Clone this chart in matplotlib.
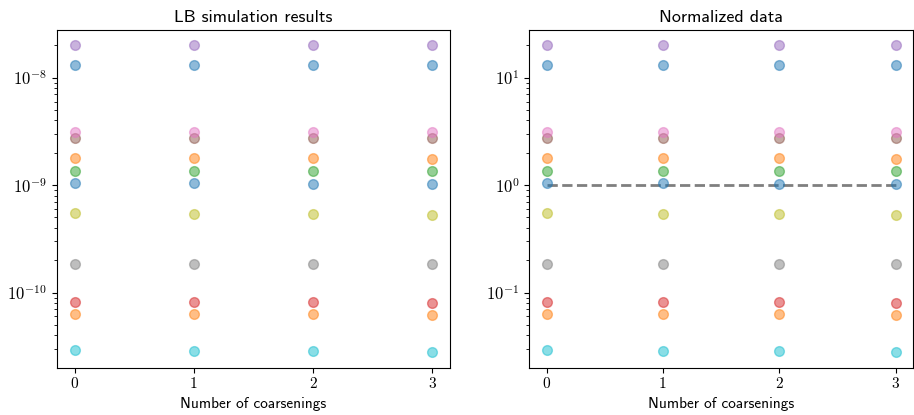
import matplotlib
matplotlib.use('Agg')
import matplotlib.pyplot as plt
from matplotlib.ticker import FuncFormatter, NullFormatter
import numpy as np

plt.rcParams['mathtext.fontset'] = 'cm'

coarsenings = [0, 1, 2, 3]
xtick_labels = ['0', '1', '2', '3']

# one row per simulated case, columns = number of coarsenings
s0 = [1.32e-8, 1.32e-8, 1.32e-8, 1.32e-8]
s1 = [1.78e-9, 1.78e-9, 1.78e-9, 1.77e-9]
s2 = [1.36e-9, 1.36e-9, 1.35e-9, 1.34e-9]
s3 = [8.25e-11, 8.25e-11, 8.1e-11, 7.95e-11]
s4 = [2.0e-8, 2.0e-8, 2.0e-8, 2.0e-8]
s5 = [2.77e-9, 2.77e-9, 2.77e-9, 2.76e-9]
s6 = [3.15e-9, 3.15e-9, 3.15e-9, 3.14e-9]
s7 = [1.85e-10, 1.85e-10, 1.84e-10, 1.83e-10]
s8 = [5.45e-10, 5.42e-10, 5.35e-10, 5.28e-10]
s9 = [2.91e-11, 2.89e-11, 2.84e-11, 2.78e-11]
s10 = [1.04e-9, 1.04e-9, 1.03e-9, 1.02e-9]
s11 = [6.38e-11, 6.36e-11, 6.3e-11, 6.22e-11]
series = [s0, s1, s2, s3, s4, s5, s6, s7, s8, s9, s10, s11]

norm_factor = 1e-9

fig = plt.figure(figsize=(9.14, 4.15), dpi=100)
ax1 = fig.add_axes([0.062, 0.114, 0.4303, 0.8137])
ax2 = fig.add_axes([0.579, 0.114, 0.4199, 0.8137])

colors = plt.rcParams['axes.prop_cycle'].by_key()['color']

for ii, s in enumerate(series):
    c = colors[ii % len(colors)]
    ax1.plot(coarsenings, s, 'o', color=c, alpha=0.5, markersize=7, zorder=3)
    ax2.plot(coarsenings, np.array(s) / norm_factor, 'o', color=c, alpha=0.5,
             markersize=7, zorder=3)

ax2.plot([coarsenings[0], coarsenings[-1]], [1, 1], '--', color='k', alpha=0.5,
         linewidth=2, zorder=2)


def log_label(v, pos):
    e = int(np.round(np.log10(v)))
    return r'$10^{%d}$' % e


titles = ['LB simulation results', 'Normalized data']
for ax, t in zip([ax1, ax2], titles):
    ax.set_yscale('log')
    ax.yaxis.set_major_formatter(FuncFormatter(log_label))
    ax.yaxis.set_minor_formatter(NullFormatter())
    ax.set_xticks(coarsenings)
    ax.set_xticklabels(xtick_labels, family='cmr10', fontsize=11)
    ax.tick_params(axis='y', labelsize=12)
    ax.set_title(t, family='cmss10', fontsize=13)
    ax.set_xlabel('Number of coarsenings', family='cmss10', fontsize=11)

fig.savefig('out.png', dpi=100)
